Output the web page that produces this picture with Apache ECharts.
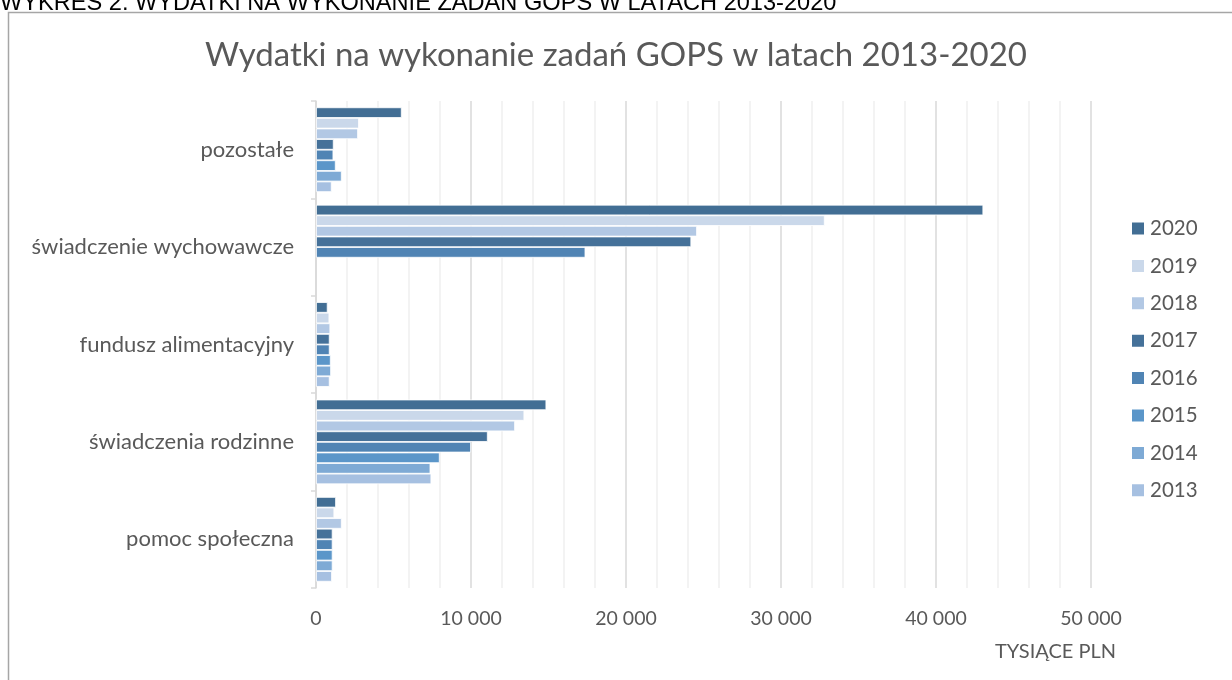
<!DOCTYPE html>
<html>
<head>
<meta charset="utf-8">
<script src="https://cdn.jsdelivr.net/npm/echarts@6/dist/echarts.min.js"></script>
<style>
html,body{margin:0;padding:0;background:#fff;}
#chart{width:1232px;height:680px;}
</style>
</head>
<body>
<div id="chart"></div>
<script>
const categories = ['pomoc społeczna', 'świadczenia rodzinne', 'fundusz alimentacyjny', 'świadczenie wychowawcze', 'pozostałe'];
const years = ['2020', '2019', '2018', '2017', '2016', '2015', '2014', '2013'];
const v2020 = [1290, 14860, 750, 43050, 5530];
const v2019 = [1180, 13440, 860, 32820, 2770];
const v2018 = [1660, 12840, 920, 24580, 2710];
const v2017 = [1070, 11080, 880, 24210, 1140];
const v2016 = [1070, 10000, 880, 17380, 1120];
const v2015 = [1070, 7980, 950, null, 1270];
const v2014 = [1070, 7380, 970, null, 1660];
const v2013 = [1030, 7440, 880, null, 1010];
const xTicks = [0, 10000, 20000, 30000, 40000, 50000];

const values = [v2020, v2019, v2018, v2017, v2016, v2015, v2014, v2013];
const colors = ['#426E94', '#CAD8EA', '#B2C8E4', '#457199', '#5084B4', '#5B96C9', '#7EAAD5', '#A6C0E1'];
const font = 'Lato, "Noto Sans", sans-serif';

const chart = echarts.init(document.getElementById('chart'));
chart.setOption({
  animation: false,
  backgroundColor: '#fff',
  title: {
    text: 'Wydatki na wykonanie zadań GOPS w latach 2013-2020',
    left: 'center',
    top: 34,
    textStyle: { fontFamily: font, fontSize: 33, fontWeight: 'normal', color: '#595959' }
  },
  graphic: [
    { type: 'rect', shape: { x: 8.5, y: 12.5, width: 1400, height: 900 }, style: { fill: 'none', stroke: '#A6A6A6', lineWidth: 1.5 }, silent: true },
    { type: 'text', left: 0, top: -9, style: { text: 'WYKRES 2. WYDATKI NA WYKONANIE ZADAŃ GOPS W LATACH 2013-2020', font: '23.6px "Liberation Sans", Arial, sans-serif', fill: '#000' } },
    { type: 'text', left: 995, top: 642, style: { text: 'TYSIĄCE PLN', font: '20px ' + font, fill: '#595959' } }
  ],
  legend: {
    orient: 'vertical',
    left: 1125,
    top: 213,
    data: years,
    icon: 'rect',
    itemWidth: 14,
    itemHeight: 14,
    itemGap: 16.4,
    textStyle: { fontFamily: font, fontSize: 20.5, color: '#595959', lineHeight: 20 }
  },
  grid: { left: 316, right: 141, top: 101, bottom: 92, containLabel: false },
  xAxis: {
    type: 'value',
    min: xTicks[0],
    max: xTicks[xTicks.length - 1],
    interval: 10000,
    axisLine: { show: false },
    axisTick: { show: false },
    axisLabel: {
      fontFamily: font, fontSize: 19.5, color: '#595959', margin: 21,
      formatter: function (v) { return String(v).replace(/\B(?=(\d{3})+(?!\d))/g, ' '); }
    },
    splitLine: { show: true, lineStyle: { color: '#D9D9D9', width: 1.5 } },
    minorTick: { show: false, splitNumber: 5 },
    minorSplitLine: { show: true, lineStyle: { color: '#F0F0F0', width: 1.5 } }
  },
  yAxis: {
    type: 'category',
    data: categories,
    axisLine: { show: true, lineStyle: { color: '#D9D9D9', width: 1.5 } },
    axisTick: { show: true, length: 5, lineStyle: { color: '#D9D9D9', width: 1.5 } },
    axisLabel: { fontFamily: font, fontSize: 22, color: '#595959', margin: 22 }
  },
  series: years.map((y, i) => ({
    name: y,
    type: 'bar',
    data: values[i],
    barGap: '0%',
    barCategoryGap: '13%',
    itemStyle: { color: colors[i], borderColor: '#FFFFFF', borderWidth: 0.8 }
  }))
});
</script>
</body>
</html>
